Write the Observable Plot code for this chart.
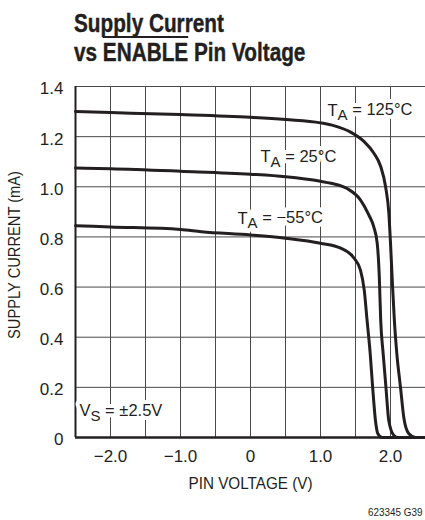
<!DOCTYPE html>
<html>
<head>
<meta charset="utf-8">
<script src="https://cdn.jsdelivr.net/npm/d3@7"></script>
<script src="https://cdn.jsdelivr.net/npm/@observablehq/plot@0.6"></script>
<style>
  html, body { margin: 0; padding: 0; background: #fff; }
  #wrap { position: relative; width: 425px; height: 520px; overflow: hidden; background: #fff; color: #231f20; }
  .title { position: absolute; left: 74px; top: 8.5px; font-family: "Liberation Sans", Arial, sans-serif; font-weight: bold; font-size: 25px; line-height: 29px; white-space: nowrap; transform: scaleX(0.83); transform-origin: 0 0; -webkit-text-stroke: 0.4px #231f20; }
  .ov { text-decoration: overline; text-decoration-thickness: 1.8px; }
  #chart { position: absolute; left: 0; top: 70px; }
  .foot { position: absolute; right: 2px; top: 506.5px; font-family: "Liberation Sans", sans-serif; font-size: 11px; line-height: 11px; transform: scaleX(0.9); transform-origin: 100% 0; }
</style>
</head>
<body>
<div id="wrap">
  <div class="title">Supply Current<br>vs <span class="ov">ENABLE</span> Pin Voltage</div>
  <div id="chart"></div>
  <div class="foot">623345 G39</div>
</div>
<script>
// ---- data ----
const seriesNames = ["125°C", "25°C", "−55°C"];

const pinV125 = [-2.5, -2.0, -1.0, 0, 0.5, 1.0, 1.2, 1.43, 1.62, 1.76, 1.86, 1.93, 1.976, 2.0, 2.03, 2.055, 2.09, 2.143, 2.19, 2.26, 2.36, 2.5];
const cur125  = [1.30, 1.296, 1.288, 1.277, 1.268, 1.255, 1.243, 1.218, 1.181, 1.135, 1.081, 1.0, 0.896, 0.776, 0.60, 0.468, 0.336, 0.20, 0.08, 0.016, 0, 0];

const pinV25 = [-2.5, -2.0, -1.0, 0, 0.5, 1.0, 1.15, 1.38, 1.57, 1.69, 1.76, 1.81, 1.84, 1.86, 1.895, 1.935, 1.975, 2.05, 2.11, 2.5];
const cur25  = [1.075, 1.072, 1.062, 1.05, 1.04, 1.022, 1.014, 0.993, 0.948, 0.888, 0.841, 0.775, 0.641, 0.468, 0.335, 0.20, 0.068, 0.008, 0, 0];

const pinVm55 = [-2.5, -2.0, -1.0, -0.7, 0, 0.5, 1.0, 1.29, 1.48, 1.571, 1.625, 1.665, 1.71, 1.745, 1.785, 1.82, 1.88, 2.5];
const curm55  = [0.845, 0.84, 0.83, 0.821, 0.808, 0.795, 0.775, 0.755, 0.715, 0.668, 0.588, 0.468, 0.335, 0.20, 0.068, 0.015, 0, 0];

const xTicks = [-2, -1, 0, 1, 2];
const yTicks = [0, 0.2, 0.4, 0.6, 0.8, 1.0, 1.2, 1.4];
const xGrid = [-2, -1.5, -1, -0.5, 0, 0.5, 1, 1.5, 2];
const yGrid = [0.2, 0.4, 0.6, 0.8, 1.0, 1.2, 1.4];

const labelText = ["T_A = 125°C", "T_A = 25°C", "T_A = −55°C", "V_S = ±2.5V"];
const labelX = [1.1, 0.143, -0.186, -2.443];
const labelY = [1.305, 1.118, 0.874, 0.106];

const xLabel = "PIN VOLTAGE (V)";
const yLabel = "SUPPLY CURRENT (mA)";

// ---- tidy tables ----
const curves = [
  ...pinV125.map((v, i) => ({series: seriesNames[0], v, c: cur125[i]})),
  ...pinV25.map((v, i) => ({series: seriesNames[1], v, c: cur25[i]})),
  ...pinVm55.map((v, i) => ({series: seriesNames[2], v, c: curm55[i]}))
];
const labels = labelText.map((t, i) => ({t, x: labelX[i], y: labelY[i]}));

const ink = "#231f20";
const fam = '"Liberation Sans", Arial, sans-serif';
const fmtX = d => d === 0 ? "0" : (d < 0 ? "\u2212" : "") + Math.abs(d).toFixed(1);
const fmtY = d => d === 0 ? "0" : d.toFixed(1);

const svg = Plot.plot({
  width: 425,
  height: 430,
  marginTop: 16,
  marginBottom: 63,
  marginLeft: 75,
  marginRight: 0,
  style: {fontFamily: fam, fontSize: "17px", color: ink, background: "white", overflow: "visible"},
  x: {domain: [-2.5, 2.5], ticks: xTicks, tickFormat: fmtX, tickSize: 0, tickPadding: 12, label: null},
  y: {domain: [0, 1.4], ticks: yTicks, tickFormat: fmtY, tickSize: 0, tickPadding: 12, label: null},
  marks: [
    Plot.ruleX(xGrid, {stroke: "#4a4a4a", strokeWidth: 1}),
    Plot.ruleY(yGrid, {stroke: "#4a4a4a", strokeWidth: 1}),
    Plot.line(curves, {x: "v", y: "c", z: "series", curve: "monotone-x", stroke: ink, strokeWidth: 3}),
    Plot.ruleX([-2.5], {stroke: ink, strokeWidth: 2}),
    Plot.ruleY([0], {stroke: ink, strokeWidth: 2.5}),
    Plot.text(labels, {x: "x", y: "y", text: "t", textAnchor: "start", fill: ink, stroke: "white", strokeWidth: 8, fontSize: 16.5}),
    Plot.text([xLabel], {text: d => d, frameAnchor: "bottom", dy: 51, fill: ink, fontSize: 16, className: "xlab"}),
    Plot.text([yLabel], {text: d => d, frameAnchor: "left", textAnchor: "middle", rotate: -90, dx: -61, dy: -7, fill: ink, fontSize: 16, className: "ylab"})
  ]
});

// subscripts: "T_A" -> T with subscript A
d3.select(svg).selectAll("text").each(function() {
  const el = this;
  if (el.querySelector("tspan")) return;
  const s = el.textContent;
  const m = s.match(/^(\w)_(\w)(.*)$/);
  if (!m) return;
  el.textContent = "";
  const sel = d3.select(el);
  sel.append("tspan").text(m[1]);
  sel.append("tspan").attr("dy", "0.3em").attr("font-size", "15px").text(m[2]);
  sel.append("tspan").attr("dy", "-0.3em").text(m[3]);
});

// y tick labels sit a little below their grid lines in the reference
d3.select(svg).selectAll('g[aria-label="y-axis tick label"]').each(function() {
  const t = this.getAttribute("transform") || "";
  this.setAttribute("transform", (t + " translate(0,2.5)").trim());
});

document.getElementById("chart").appendChild(svg);

// condense axis titles to the reference's narrow type
const fit = (cls, w) => {
  d3.select(svg).selectAll(`.${cls} text`).each(function() {
    this.setAttribute("textLength", w);
    this.setAttribute("lengthAdjust", "spacingAndGlyphs");
  });
};
fit("xlab", 124);
fit("ylab", 168);
</script>
</body>
</html>
